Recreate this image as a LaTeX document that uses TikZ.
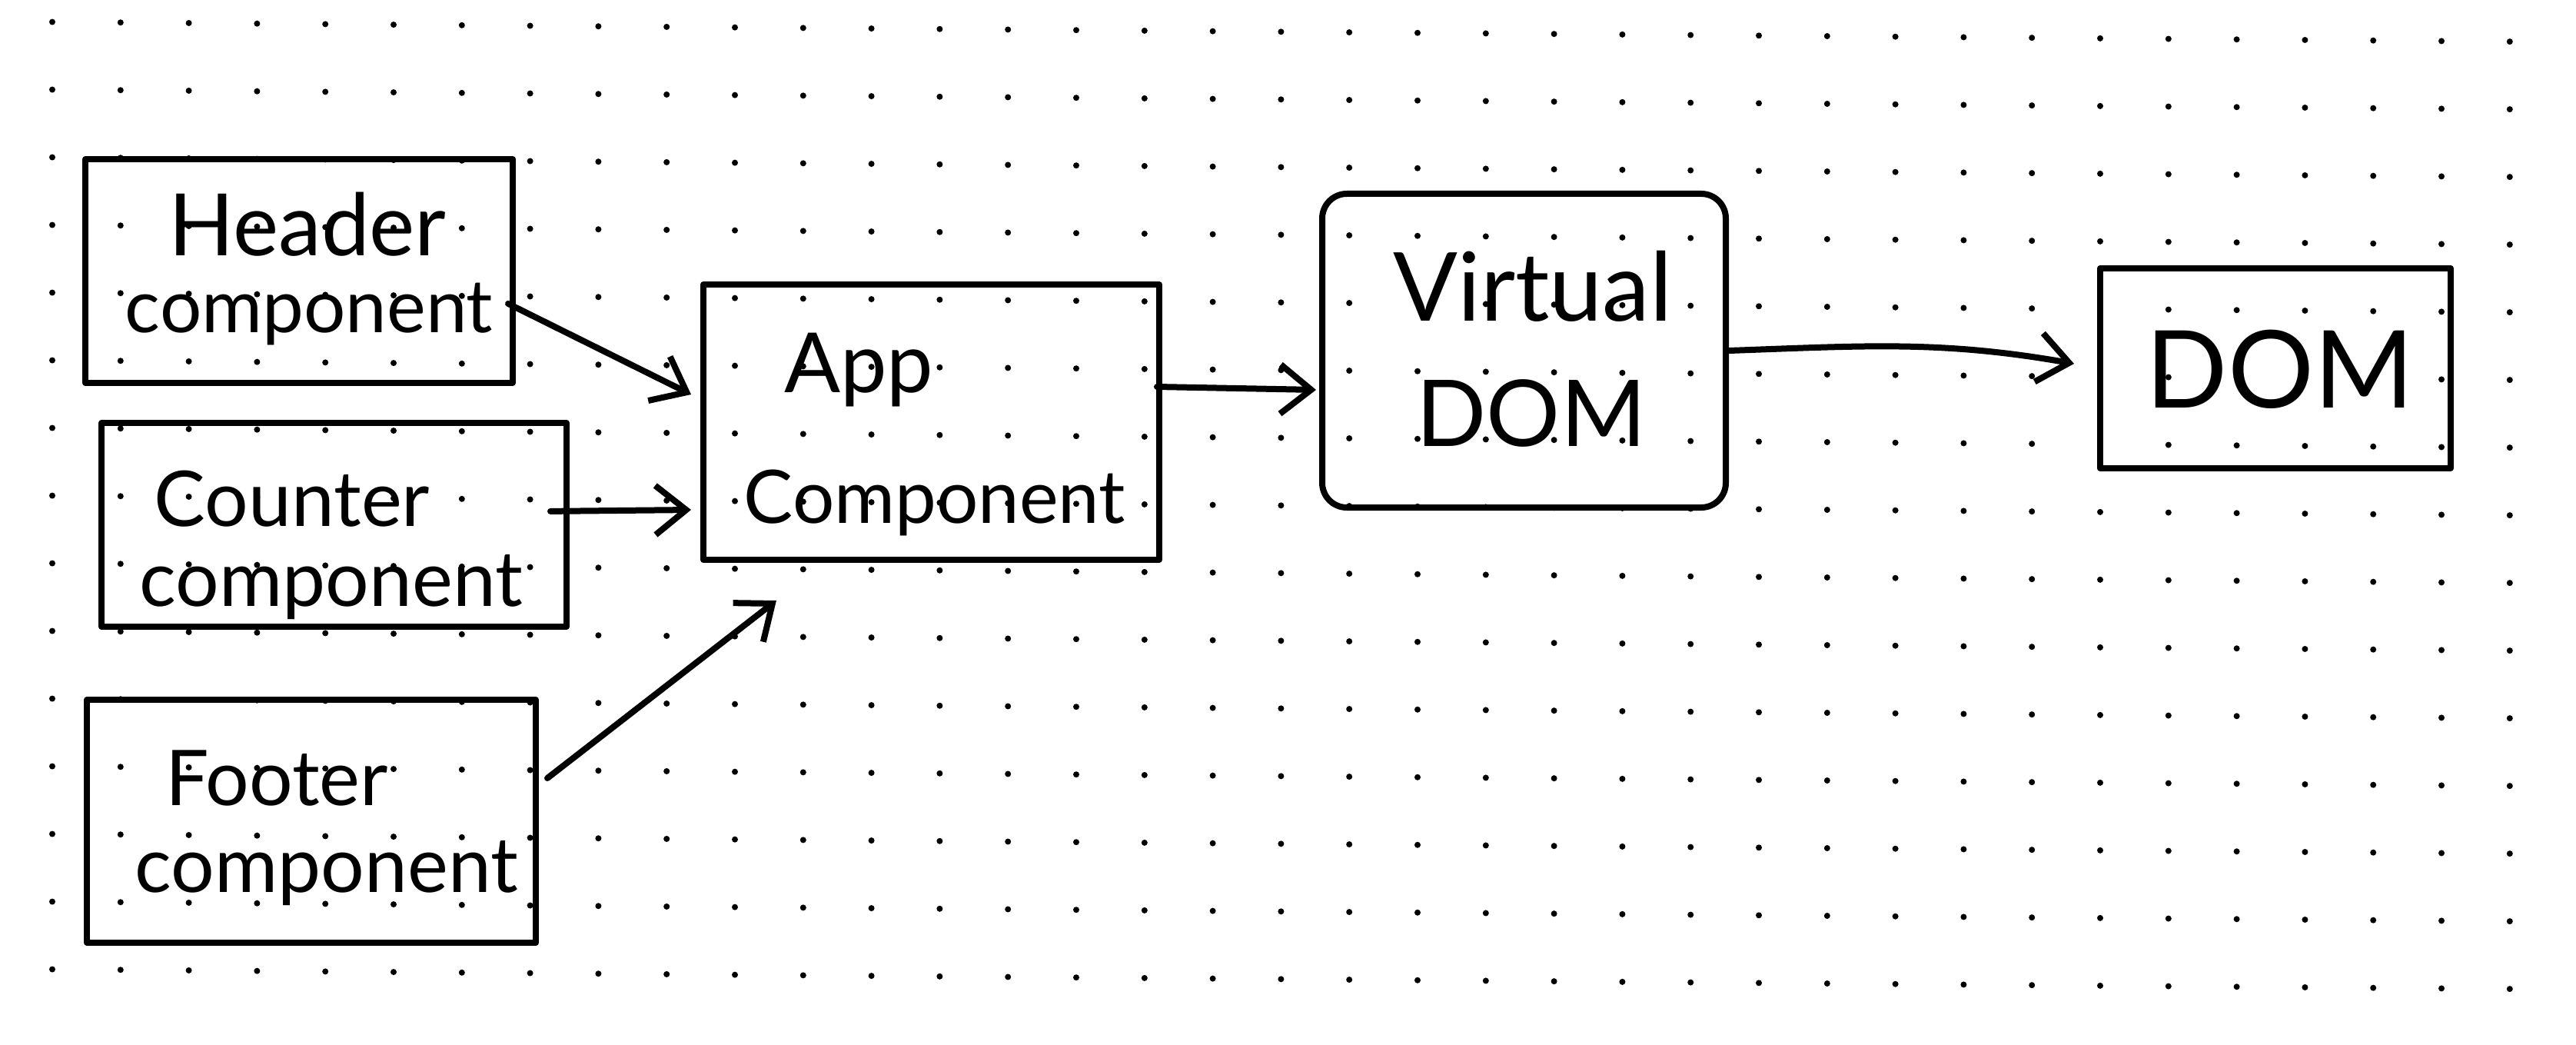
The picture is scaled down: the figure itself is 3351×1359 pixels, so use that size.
\documentclass[tikz,border=0pt]{standalone}
\usepackage{fontspec}
\setmainfont{Lato}
\usetikzlibrary{arrows.meta}
\begin{document}
\begin{tikzpicture}[x=0.25pt,y=-0.25pt,
  pen/.style={line width=2pt, line cap=round, line join=round},
  box/.style={pen, draw, rectangle, inner sep=0pt},
  lbl/.style={anchor=base, inner sep=0pt, font=\fontsize{#1}{#1}\selectfont},
  conn/.style={pen, -{Straight Barb[length=10pt,width=16pt]}},
  dot/.style={fill=black}
]
\fill[white] (0,0) rectangle (3351,1359);
\useasboundingbox (0,0) rectangle (3351,1359);
% dotted paper
\foreach \i in {0,...,36}{\foreach \j in {0,...,14}{
  \pgfmathsetmacro{\dx}{68+88.8*\i}
  \pgfmathsetmacro{\dy}{28+88*\j+0.008*\dx}
  \fill[dot] (\dx,\dy) circle[radius=1pt];
}}
% boxes
\node[box, minimum width=139pt, minimum height=72.75pt] (hdr) at (389,352.5) {};
\node[box, minimum width=151.25pt, minimum height=66.25pt] (ctr) at (434.5,682.5) {};
\node[box, minimum width=146pt, minimum height=79pt] (ftr) at (405,1068) {};
\node[box, minimum width=148.25pt, minimum height=89.5pt] (app) at (1211.5,549) {};
\node[box, rounded corners=8pt, minimum width=131.25pt, minimum height=102pt] (vdom) at (1982.5,456) {};
\node[box, minimum width=114pt, minimum height=65pt] (dom) at (2960,479) {};
% labels
\node[lbl=28] (hdrA) at (400,332) {Header};
\node[lbl=24] (hdrB) at (402,432) {component};
\node[lbl=25] (ctrA) at (380,684) {Counter};
\node[lbl=25] (ctrB) at (431,788) {component};
\node[lbl=25] (ftrA) at (360,1047) {Footer};
\node[lbl=25] (ftrB) at (425,1160) {component};
\node[lbl=27] (appA) at (1117,510) {App};
\node[lbl=24] (appB) at (1216,680) {Component};
\node[lbl=31] (vdomA) at (1994,417) {Virtual};
\node[lbl=30] (vdomB) at (1992,580) {DOM};
\node[lbl=35] (domA) at (2966,530) {DOM};
% connectors
\draw[conn] ([xshift=-2.5pt,yshift=-10.6pt]hdr.east) -- ([xshift=-3pt,yshift=9pt]app.west);
\draw[conn] ([xshift=-6.25pt,yshift=4.4pt]ctr.east) -- ([xshift=-3pt,yshift=-28.5pt]app.west);
\draw[conn] ([xshift=2.75pt,yshift=14pt]ftr.east) -- ([xshift=-50.4pt,yshift=-12.25pt]app.south);
\draw[conn] ([xshift=-1.75pt,yshift=11.5pt]app.east) -- ([xshift=-1pt,yshift=-12.75pt]vdom.west);
\draw[conn] (vdom.east) to[out=2,in=170] ([xshift=-7.5pt,yshift=1.5pt]dom.west);
\end{tikzpicture}
\end{document}
